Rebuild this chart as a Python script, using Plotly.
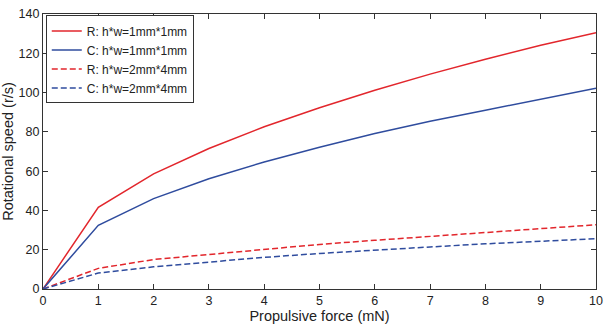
import plotly.graph_objects as go

force = [0, 1, 2, 3, 4, 5, 6, 7, 8, 9, 10]
r_1x1 = [0, 41.6, 58.6, 71.5, 82.6, 92.3, 101.2, 109.4, 117.0, 124.1, 130.5]
c_1x1 = [0, 32.4, 46.0, 56.1, 64.7, 72.2, 79.2, 85.4, 91.0, 96.5, 102.2]
r_2x4 = [0, 10.5, 15.0, 17.6, 20.3, 22.7, 24.8, 26.7, 28.8, 30.7, 32.7]
c_2x4 = [0, 8.1, 11.3, 13.8, 16.1, 18.1, 19.9, 21.4, 23.0, 24.3, 25.6]
names = ["R: h*w=1mm*1mm", "C: h*w=1mm*1mm", "R: h*w=2mm*4mm", "C: h*w=2mm*4mm"]
y_ticks = [0, 20, 40, 60, 80, 100, 120, 140]

RED = "#e2262c"
BLUE = "#2f4c9e"

fig = go.Figure()
for ys, name, color, dash in [
    (r_1x1, names[0], RED, "solid"),
    (c_1x1, names[1], BLUE, "solid"),
    (r_2x4, names[2], RED, "6px,3px"),
    (c_2x4, names[3], BLUE, "6px,3px"),
]:
    fig.add_trace(go.Scatter(x=force, y=ys, mode="lines", name=name,
                             line=dict(color=color, width=1.5, dash=dash)))

FONT = "Liberation Sans, Arial"
axis_common = dict(showline=True, linecolor="#333333", linewidth=1.2, mirror="ticks",
                   ticks="inside", ticklen=5, tickcolor="#333333", showgrid=False,
                   zeroline=False, tickfont=dict(family=FONT, size=12.5, color="#222222"))

fig.update_layout(
    width=610, height=327,
    margin=dict(l=42, r=8, t=7, b=30),
    paper_bgcolor="white", plot_bgcolor="white",
    font=dict(family=FONT, size=12.5, color="#222222"),
    showlegend=True,
    legend=dict(x=0.005, y=0.995, xanchor="left", yanchor="top",
                bordercolor="#333333", borderwidth=1, bgcolor="white",
                font=dict(family=FONT, size=12, color="#222222"), itemwidth=30,
                tracegroupgap=0),
    xaxis=dict(range=[0, 10], tickvals=force,
               title=dict(text="Propulsive force (mN)", standoff=2, font=dict(size=14.5)),
               **axis_common),
    yaxis=dict(range=[0, 140], tickvals=y_ticks,
               title=dict(text="Rotational speed (r/s)", standoff=1, font=dict(size=14.5)),
               **axis_common),
)

fig.write_html("out.html")
